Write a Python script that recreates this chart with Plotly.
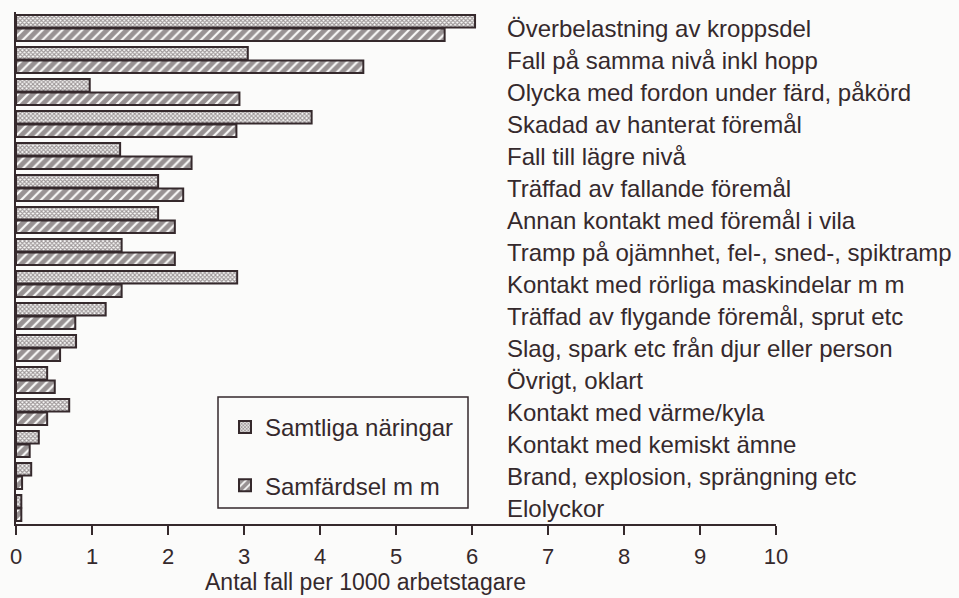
import plotly.graph_objects as go

categories = [
    "Överbelastning av kroppsdel",
    "Fall på samma nivå inkl hopp",
    "Olycka med fordon under färd, påkörd",
    "Skadad av hanterat föremål",
    "Fall till lägre nivå",
    "Träffad av fallande föremål",
    "Annan kontakt med föremål i vila",
    "Tramp på ojämnhet, fel-, sned-, spiktramp",
    "Kontakt med rörliga maskindelar m m",
    "Träffad av flygande föremål, sprut etc",
    "Slag, spark etc från djur eller person",
    "Övrigt, oklart",
    "Kontakt med värme/kyla",
    "Kontakt med kemiskt ämne",
    "Brand, explosion, sprängning etc",
    "Elolyckor",
]
samtliga = [6.04, 3.05, 0.97, 3.89, 1.37, 1.87, 1.87, 1.39, 2.91, 1.18, 0.79, 0.41, 0.70, 0.30, 0.20, 0.07]
samfardsel = [5.64, 4.57, 2.94, 2.90, 2.31, 2.20, 2.09, 2.09, 1.39, 0.78, 0.58, 0.51, 0.41, 0.18, 0.08, 0.07]
xticks = [0, 1, 2, 3, 4, 5, 6, 7, 8, 9, 10]
x_title = "Antal fall per 1000 arbetstagare"

DARK = "#35292c"
BG = "#fbfbfa"
FONT = "Liberation Sans, Arial, sans-serif"
FS = 22
FS_LAB = 24

fig = go.Figure()
fig.add_trace(go.Bar(
    y=categories, x=samtliga, orientation="h", name="Samtliga näringar",
    legendgroup="a",
    marker=dict(color=BG, line=dict(color=DARK, width=2),
                pattern=dict(shape="x", size=3, solidity=0.6, fgcolor="#403436", bgcolor=BG)),
))
fig.add_trace(go.Bar(
    y=categories, x=samfardsel, orientation="h", name="Samfärdsel m m",
    legendgroup="b",
    marker=dict(color=BG, line=dict(color=DARK, width=2),
                pattern=dict(shape="/", size=7, solidity=0.7, fgcolor=DARK, bgcolor=BG)),
))

for c in categories:
    fig.add_annotation(x=(505 - 16) / 760, xref="paper", y=c, yref="y", text=c,
                       showarrow=False, xanchor="left", yanchor="middle", yshift=0,
                       font=dict(size=FS_LAB, color=DARK, family=FONT))

fig.add_annotation(x=(365 - 16) / 760, xref="paper", y=(524 - 582) / 512, yref="paper",
                   text=x_title, showarrow=False, xanchor="center", yanchor="middle",
                   font=dict(size=23, color=DARK, family=FONT))

# legend frame
fig.add_shape(type="rect", xref="paper", yref="paper",
              x0=(218 - 16) / 760, x1=(468 - 16) / 760,
              y0=(524 - 508) / 512, y1=(524 - 397) / 512,
              line=dict(color=DARK, width=1.5), fillcolor=BG, layer="below")

fig.update_layout(
    width=959, height=598,
    margin=dict(l=16, r=183, t=12, b=74, autoexpand=False),
    paper_bgcolor=BG, plot_bgcolor=BG,
    barmode="group", bargap=0.16, bargroupgap=0.08,
    font=dict(family=FONT, size=FS, color=DARK),
    showlegend=True,
    legend=dict(x=(225 - 16) / 760, y=(524 - 405) / 512, xanchor="left", yanchor="top",
                borderwidth=0, bgcolor="rgba(0,0,0,0)",
                traceorder="grouped", tracegroupgap=24,
                font=dict(size=FS_LAB, color=DARK, family=FONT)),
    xaxis=dict(range=[0, 10], tickvals=xticks, ticks="outside", ticklen=9, tickwidth=2,
               tickcolor=DARK, showline=True, linecolor=DARK, linewidth=2,
               showgrid=False, zeroline=False, ticklabelstandoff=3, automargin=False,
               tickfont=dict(size=FS, color=DARK, family=FONT)),
    yaxis=dict(autorange="reversed", showticklabels=False, ticks="", showline=True,
               linecolor=DARK, linewidth=2, showgrid=False, zeroline=False, automargin=False),
)

fig.write_html("out.html", config={"displayModeBar": False},
               post_script="document.body.style.margin='0';document.body.style.overflow='hidden';")
